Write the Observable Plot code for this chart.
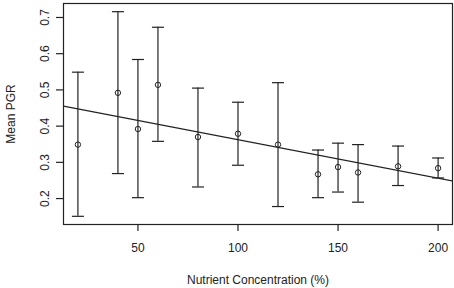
<!DOCTYPE html>
<html>
<head>
<meta charset="utf-8">
<script src="https://cdn.jsdelivr.net/npm/d3@7"></script>
<script src="https://cdn.jsdelivr.net/npm/@observablehq/plot@0.6"></script>
<style>
  html, body { margin: 0; padding: 0; background: #fff; }
  svg { display: block; }
</style>
</head>
<body>
<div id="chart"></div>
<script>
// Nutrient concentration (%)
const concentration = [20, 40, 50, 60, 80, 100, 120, 140, 150, 160, 180, 200];
// Mean PGR
const meanPGR = [0.349, 0.492, 0.392, 0.514, 0.370, 0.379, 0.349, 0.267, 0.287, 0.272, 0.289, 0.284];
// Error bar limits
const upper = [0.549, 0.716, 0.584, 0.673, 0.505, 0.466, 0.520, 0.334, 0.353, 0.349, 0.345, 0.312];
const lower = [0.151, 0.269, 0.2025, 0.358, 0.232, 0.292, 0.178, 0.2025, 0.218, 0.190, 0.236, 0.257];
const xTicks = [50, 100, 150, 200];
const yTicks = [0.2, 0.3, 0.4, 0.5, 0.6, 0.7];

const data = concentration.map((x, i) => ({x, y: meanPGR[i], lo: lower[i], hi: upper[i]}));

// R-style axis ranges (4% extension)
function rRange(vals) {
  const [a, b] = d3.extent(vals);
  const d = (b - a) * 0.04;
  return [a - d, b + d];
}
const xDomain = rRange(concentration);
const yDomain = rRange(lower.concat(upper));

// least-squares fit of means (abline(lm(...)))
const mx = d3.mean(concentration), my = d3.mean(meanPGR);
const slope = d3.sum(data, d => (d.x - mx) * (d.y - my)) / d3.sum(data, d => (d.x - mx) ** 2);
const intercept = my - slope * mx;
const fit = xDomain.map(x => ({x, y: intercept + slope * x}));

const capSymbol = {
  draw(ctx) { ctx.moveTo(-6, 0); ctx.lineTo(6, 0); }
};

const ink = "#222";

const chart = Plot.plot({
  width: 454,
  height: 288,
  marginLeft: 63,
  marginRight: 2,
  marginTop: 3,
  marginBottom: 64,
  style: {fontFamily: "Liberation Sans, Arial, sans-serif", fontSize: "12px", color: ink, background: "#fff"},
  x: {domain: xDomain},
  y: {domain: yDomain},
  marks: [
    Plot.frame({stroke: ink, strokeWidth: 1.2}),
    Plot.axisX({ticks: xTicks, tickSize: 7, tickPadding: 12, tickFormat: d => String(d),
      label: "Nutrient Concentration (%)", labelAnchor: "center", labelArrow: "none", labelOffset: 59,
      stroke: ink, strokeWidth: 1.2, fill: ink}),
    Plot.axisY({ticks: yTicks, tickSize: 7, tickPadding: 8, tickRotate: -90, tickFormat: d => d.toFixed(1),
      label: "Mean PGR", labelAnchor: "center", labelArrow: "none", labelOffset: 57,
      stroke: ink, strokeWidth: 1.2, fill: ink}),
    Plot.line(fit, {x: "x", y: "y", stroke: ink, strokeWidth: 1.2, clip: true}),
    Plot.ruleX(data, {x: "x", y1: "lo", y2: "hi", stroke: ink, strokeWidth: 1.2}),
    Plot.dot(data, {x: "x", y: "hi", symbol: capSymbol, r: 6, stroke: ink, strokeWidth: 1.2, fill: "none"}),
    Plot.dot(data, {x: "x", y: "lo", symbol: capSymbol, r: 6, stroke: ink, strokeWidth: 1.2, fill: "none"}),
    Plot.dot(data, {x: "x", y: "y", r: 2.7, stroke: ink, strokeWidth: 1, fill: "none"})
  ]
});
document.getElementById("chart").appendChild(chart);
</script>
</body>
</html>
